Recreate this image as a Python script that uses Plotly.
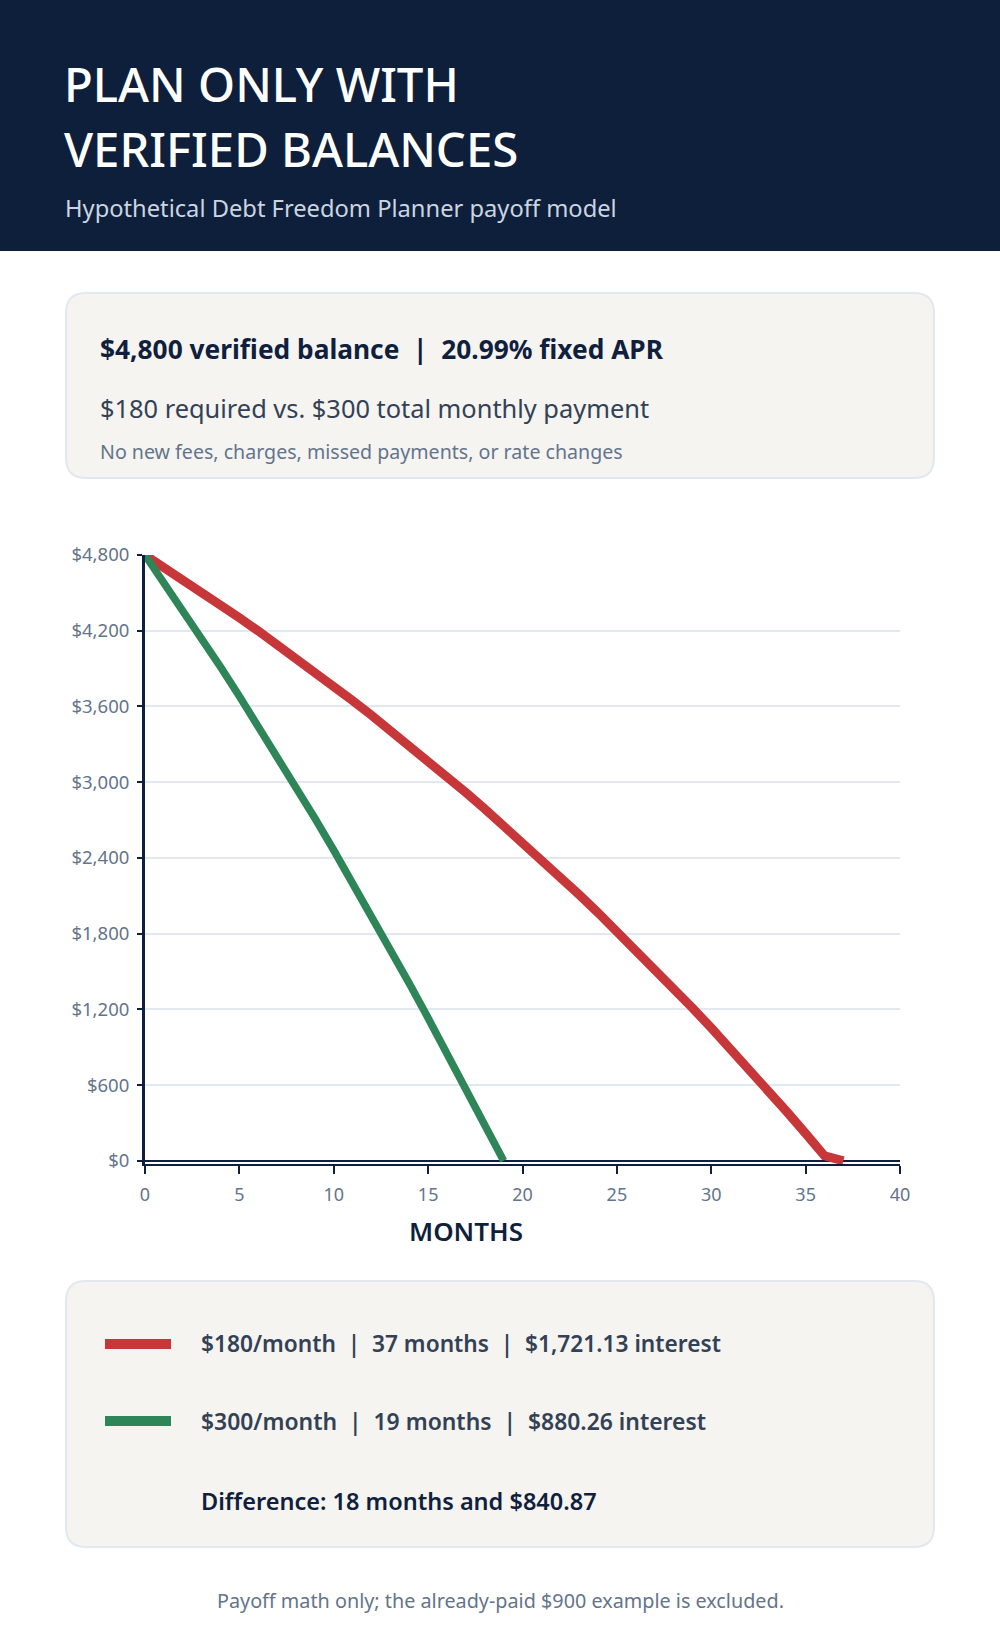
import plotly.graph_objects as go

# ---------------- data ----------------
months_180 = [0, 1, 2, 3, 4, 5, 6, 7, 8, 9, 10, 11, 12, 13, 14, 15, 16, 17, 18, 19,
              20, 21, 22, 23, 24, 25, 26, 27, 28, 29, 30, 31, 32, 33, 34, 35, 36, 37]
balance_180 = [4800, 4704, 4606, 4507, 4406, 4303, 4198, 4091, 3983, 3873, 3760,
               3646, 3530, 3412, 3291, 3169, 3044, 2918, 2789, 2657, 2524, 2388,
               2250, 2109, 1966, 1820, 1672, 1522, 1368, 1212, 1053, 892, 727, 560,
               390, 217, 40, 0]
months_300 = [0, 1, 2, 3, 4, 5, 6, 7, 8, 9, 10, 11, 12, 13, 14, 15, 16, 17, 18, 19]
balance_300 = [4800, 4584, 4364, 4140, 3913, 3681, 3446, 3206, 2962, 2714, 2461,
               2204, 1943, 1677, 1406, 1131, 851, 566, 275, 0]
y_ticks = [0, 600, 1200, 1800, 2400, 3000, 3600, 4200, 4800]
y_tick_labels = ["$0", "$600", "$1,200", "$1,800", "$2,400", "$3,000", "$3,600",
                 "$4,200", "$4,800"]
x_ticks = [0, 5, 10, 15, 20, 25, 30, 35, 40]

title_lines = ["PLAN ONLY WITH", "VERIFIED BALANCES"]
subtitle = "Hypothetical Debt Freedom Planner payoff model"
info_lines = ["$4,800 verified balance  |  20.99% fixed APR",
              "$180 required vs. $300 total monthly payment",
              "No new fees, charges, missed payments, or rate changes"]
legend_lines = ["$180/month  |  37 months  |  $1,721.13 interest",
                "$300/month  |  19 months  |  $880.26 interest",
                "Difference: 18 months and $840.87"]
footer = "Payoff math only; the already-paid $900 example is excluded."

# ---------------- layout helpers ----------------
W, H = 1000, 1640
L, R, T, B = 145, 900, 555, 1164
FONT = "Noto Sans"
NAVY = "#0e1f3b"
RED = "#c73639"
GREEN = "#2d8558"


def px(x):
    return (x - L) / (R - L)


def py(y):
    return (B - y) / (B - T)


def rrect(x0, y0, x1, y1, r):
    pts = [
        ("M", [(x0 + r, y0)]), ("L", [(x1 - r, y0)]), ("Q", [(x1, y0), (x1, y0 + r)]),
        ("L", [(x1, y1 - r)]), ("Q", [(x1, y1), (x1 - r, y1)]), ("L", [(x0 + r, y1)]),
        ("Q", [(x0, y1), (x0, y1 - r)]), ("L", [(x0, y0 + r)]), ("Q", [(x0, y0), (x0 + r, y0)]),
    ]
    s = ""
    for cmd, ps in pts:
        s += cmd + " " + " ".join(f"{px(a):.5f},{py(b):.5f}" for a, b in ps) + " "
    return s + "Z"


fig = go.Figure()
fig.add_trace(go.Scatter(x=months_180, y=balance_180, mode="lines",
                         line=dict(color=RED, width=9), hoverinfo="skip"))
fig.add_trace(go.Scatter(x=months_300, y=balance_300, mode="lines",
                         line=dict(color=GREEN, width=7.5), hoverinfo="skip"))

shapes = [
    dict(type="rect", xref="paper", yref="paper", x0=px(0), x1=px(W), y0=py(0), y1=py(251),
         fillcolor=NAVY, line=dict(width=0), layer="below"),
    dict(type="path", xref="paper", yref="paper", path=rrect(66, 293, 934, 478, 20),
         fillcolor="#f5f4f1", line=dict(color="#e2e8f0", width=2), layer="below"),
    dict(type="path", xref="paper", yref="paper", path=rrect(66, 1281, 934, 1547, 20),
         fillcolor="#f5f4f1", line=dict(color="#e2e8f0", width=2), layer="below"),
    dict(type="rect", xref="paper", yref="paper", x0=px(105), x1=px(171), y0=py(1339), y1=py(1349),
         fillcolor=RED, line=dict(width=0)),
    dict(type="rect", xref="paper", yref="paper", x0=px(105), x1=px(171), y0=py(1416), y1=py(1426),
         fillcolor=GREEN, line=dict(width=0)),
]


def ann(text, x, y, size, color, weight="normal", xanchor="left"):
    return dict(text=text, x=px(x), y=py(y), xref="paper", yref="paper", xanchor=xanchor,
                yanchor="middle", showarrow=False,
                font=dict(family=FONT, size=size, color=color, weight=weight))


annotations = [
    ann(title_lines[0], 62, 84, 47.3, "#ffffff", 500),
    ann(title_lines[1], 62, 149, 47.3, "#ffffff", 500),
    ann(subtitle, 63, 208, 23.7, "#cbd5e1"),
    ann(info_lines[0], 98, 349, 26.3, "#0f1f3d", "bold"),
    ann(info_lines[1], 98, 408, 25.4, "#334155"),
    ann(info_lines[2], 98, 451, 19.6, "#64748b"),
    ann("MONTHS", 466, 1231, 26, "#0f1f3d", 600, "center"),
    ann(legend_lines[0], 199, 1343, 22.7, "#334155", 600),
    ann(legend_lines[1], 199, 1421, 22.9, "#334155", 600),
    ann(legend_lines[2], 199, 1501, 23.5, "#0f1f3d", 600),
    ann(footer, 500, 1600, 19.8, "#64748b", "normal", "center"),
]

fig.update_layout(
    width=W, height=H,
    margin=dict(l=L, r=W - R, t=T, b=H - B, pad=0),
    paper_bgcolor="#ffffff", plot_bgcolor="#ffffff",
    showlegend=False,
    shapes=shapes, annotations=annotations,
    font=dict(family=FONT),
    xaxis=dict(range=[0, 40], tickvals=x_ticks, showgrid=False, zeroline=False,
               showline=True, linecolor="#0f1f3d", linewidth=2,
               ticks="outside", ticklen=8, tickwidth=2, tickcolor="#0f1f3d",
               ticklabelstandoff=5,
               tickfont=dict(family=FONT, size=18, color="#64748b"), fixedrange=True),
    yaxis=dict(range=[-25, 4800], tickvals=y_ticks, ticktext=y_tick_labels,
               showgrid=True, gridcolor="#e2e8f0", gridwidth=1.5,
               zeroline=True, zerolinecolor="#0f1f3d", zerolinewidth=2,
               showline=True, linecolor="#0f1f3d", linewidth=3,
               ticks="outside", ticklen=5, tickwidth=1.5, tickcolor="#0f1f3d",
               ticklabelstandoff=4,
               tickfont=dict(family=FONT, size=18.5, color="#64748b"), fixedrange=True),
)

fig.write_html("out.html", config={"displayModeBar": False},
               post_script="document.body.style.margin='0';document.body.style.padding='0';")
